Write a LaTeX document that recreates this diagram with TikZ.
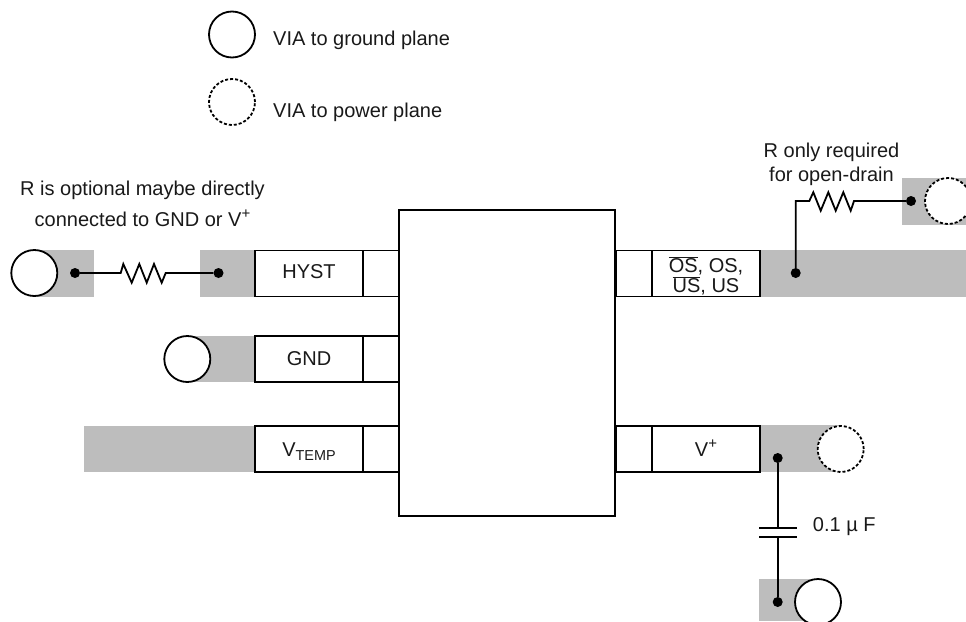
\documentclass[tikz,border=0pt]{standalone}
\usepackage{fontspec}
\setmainfont{Liberation Sans}
\newcommand{\supplus}{\raisebox{7.5pt}{\fontsize{15}{15}\selectfont +}}
\newcommand{\subtemp}[1]{\raisebox{-4pt}{\fontsize{14.4}{14.4}\selectfont #1}}
\newcommand{\ovbar}[1]{$\overline{\mbox{#1}}$}
\tikzset{
  every node/.style={font=\fontsize{20}{24}\selectfont, text=black!90},
  pad/.style={fill=padgray, draw=none},
  pinbox/.style={draw=black, line width=1.8pt, fill=white, minimum height=46pt, inner sep=0pt, text height=14.4pt},
  viag/.style={circle, draw=black, line width=1.8pt, fill=white, minimum size=46pt, inner sep=0pt},
  viap/.style={viag, dash pattern=on 3pt off 2pt},
  junction/.style={circle, fill=black, minimum size=10pt, inner sep=0pt},
  wire/.style={draw=black, line width=1.8pt},
  txt/.style={anchor=base, inner sep=0pt},
  txtw/.style={anchor=base west, inner sep=0pt}
}
\definecolor{padgray}{RGB}{189,189,189}
\begin{document}
\begin{tikzpicture}[x=1pt,y=-1pt]
\useasboundingbox (0,0) rectangle (966,621);
\clip (0,0) rectangle (966,621);
% pads
\fill[pad] (34,250) rectangle (94,296.5);
\fill[pad] (200,250) rectangle (255,296.5);
\fill[pad] (187,336) rectangle (255,382);
\fill[pad] (84,426) rectangle (255,472);
\fill[pad] (760,250) rectangle (966,297);
\fill[pad] (902,178) rectangle (966,225);
\fill[pad] (760,425) rectangle (841,472);
\fill[pad] (759,579) rectangle (818,621);
% legend
\node[viag] (lg) at (232,34.5) {};
\node[viap] (lp) at (232,102) {};
\node[txtw] (lgt) at (273,45) {VIA to ground plane};
\node[txtw] (lpt) at (273,117) {VIA to power plane};
% IC
\node[draw=black, line width=1.8pt, fill=white, minimum width=216pt, minimum height=306pt, inner sep=0pt] (ic) at (507,363) {};
% left pins
\node[pinbox, minimum width=108pt, text depth=5.4pt] (hyst) at (309,273.5) {HYST};
\node[pinbox, minimum width=36pt] (hystb) at (381,273.5) {};
\node[pinbox, minimum width=108pt, text depth=2.4pt] (gnd) at (309,359) {GND};
\node[pinbox, minimum width=36pt] (gndb) at (381,359) {};
\node[pinbox, minimum width=108pt, text depth=0.4pt] (vtemp) at (309,449) {V\subtemp{TEMP}};
\node[pinbox, minimum width=36pt] (vtempb) at (381,449) {};
% right pins
\node[pinbox, minimum width=36pt] (osb) at (634,273.5) {};
\node[pinbox, minimum width=108pt] (os) at (706,273.5) {};
\node[txt] (ost) at (706,272.7) {\ovbar{OS}, OS,};
\node[txt] (ust) at (706,292.7) {\ovbar{US}, US};
\node[pinbox, minimum width=36pt] (vpb) at (634,449) {};
\node[pinbox, minimum width=108pt, text depth=0.4pt] (vp) at (706,449) {V\supplus};
% vias
\node[viag] (v1) at (34.3,273) {};
\node[viag] (v2) at (187.3,359) {};
\node[viap] (v3) at (948,201) {};
\node[viap] (v4) at (840.7,449) {};
\node[viag] (v5) at (818,602) {};
% junctions
\node[junction] (j1) at (75,273) {};
\node[junction] (j2) at (218.5,273) {};
\node[junction] (j3) at (911,201) {};
\node[junction] (j4) at (795.7,273) {};
\node[junction] (j5) at (777.7,458) {};
\node[junction] (j6) at (777.7,602) {};
% resistor left
\draw[wire, line join=miter] (j1) -- (120.7,273) -- (123.3,264) -- (131.7,282.7) -- (139.3,264) -- (146.7,282.7) -- (154,264) -- (161.7,282.7) -- (165.7,273) -- (j2);
% resistor right
\draw[wire, line join=miter] (j4) -- (795.7,201) -- (809.3,201) -- (813.3,192.3) -- (820.7,210.7) -- (828.3,192.3) -- (835.7,210.7) -- (843.3,192.3) -- (850.7,210.7) -- (854,201) -- (j3);
% capacitor
\coordinate (c1) at (777.7,527.7);
\coordinate (c2) at (777.7,536.7);
\draw[wire] (j5) -- (c1);
\draw[wire] (j6) -- (c2);
\draw[wire] (759,527.7) -- (796.7,527.7);
\draw[wire] (759,536.7) -- (796.7,536.7);
% labels
\node[txt] (la1) at (142.5,195) {R is optional maybe directly};
\node[txt] (la2) at (142.5,226) {connected to GND or V\supplus};
\node[txt] (la3) at (831.5,157) {R only required};
\node[txt] (la4) at (831.5,181) {for open-drain};
\node[txtw] (la5) at (812.7,531.7) {0.1 µ F};
\end{tikzpicture}
\end{document}
